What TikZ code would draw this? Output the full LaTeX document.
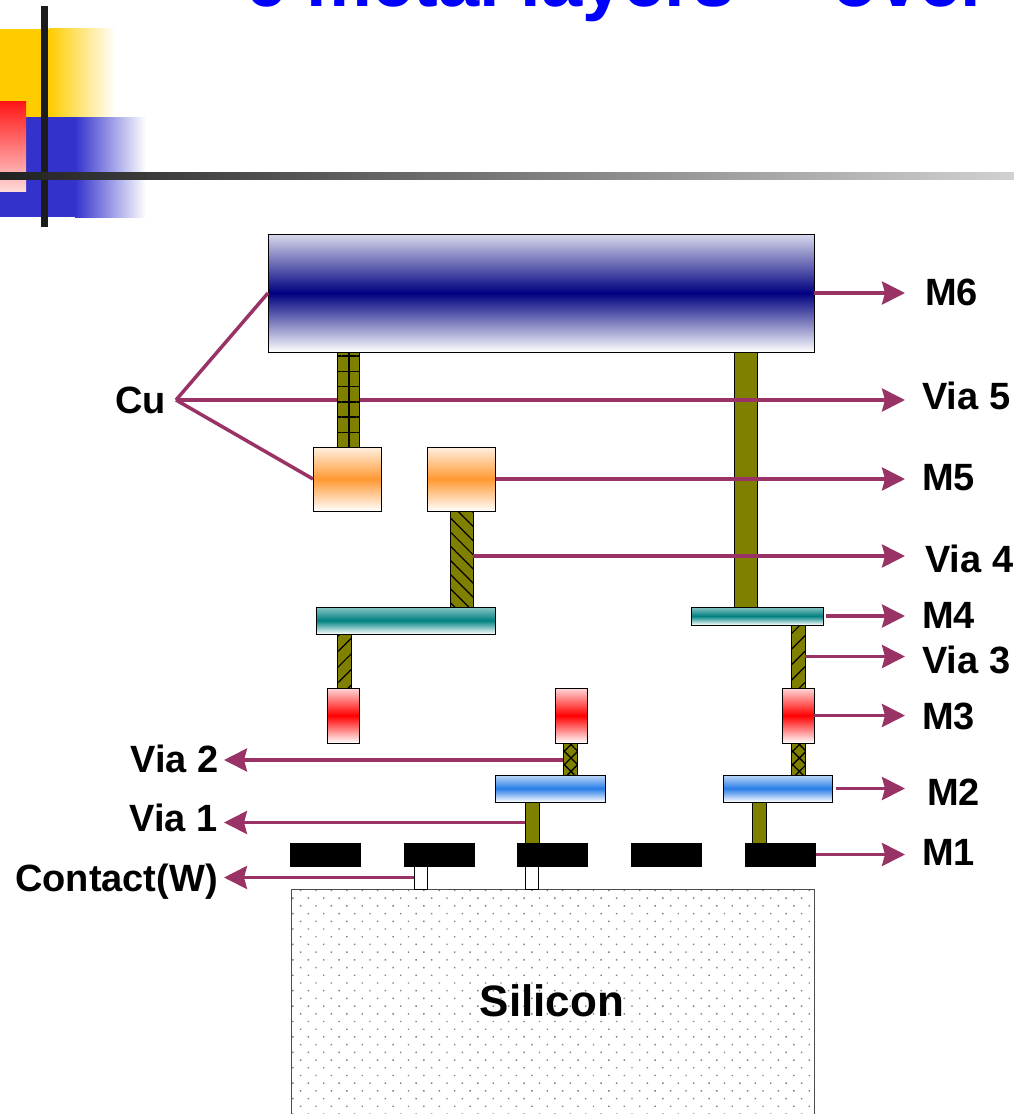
\documentclass[tikz,border=0pt]{standalone}
\usepackage{fontspec}
\setmainfont{Liberation Sans}
\usepackage{tikz}
\usetikzlibrary{arrows.meta, patterns.meta}
\definecolor{linkplum}{RGB}{153,51,102}
\definecolor{viaolive}{RGB}{128,128,0}
\definecolor{navyband}{RGB}{0,0,128}
\definecolor{orangeband}{RGB}{255,153,51}
\definecolor{tealband}{RGB}{0,128,128}
\definecolor{blueband}{RGB}{40,125,232}
\definecolor{logoyellow}{RGB}{255,204,0}
\definecolor{logoblue}{RGB}{51,51,204}
\definecolor{titleblue}{RGB}{0,0,255}

\begin{document}
\begin{tikzpicture}[
  x=1pt, y=-1pt,
  font=\fontsize{38}{38}\selectfont\bfseries,
  layerbox/.style={draw=black, line width=1pt, inner sep=0pt, outer sep=0pt},
  metalsix/.style={layerbox, top color=navyband!15, bottom color=white, middle color=navyband},
  metalfive/.style={layerbox, top color=orangeband!15, bottom color=white, middle color=orangeband},
  metalfour/.style={layerbox, top color=tealband!45, bottom color=white, middle color=tealband},
  metalthree/.style={layerbox, top color=red!15, bottom color=white, middle color=red},
  metaltwo/.style={layerbox, top color=blueband!30, bottom color=white, middle color=blueband},
  metalone/.style={layerbox, fill=black, minimum width=70pt, minimum height=23pt},
  viabox/.style={layerbox, fill=viaolive},
  viagrid/.style={layerbox, preaction={fill=viaolive}, pattern={Hatch[angle=0,distance=15.3pt,line width=1.5pt,xshift=-3pt,yshift=-7pt]}, pattern color=black},
  viadown/.style={layerbox, preaction={fill=viaolive}, pattern={Lines[angle=-45,distance=10pt,line width=1.2pt]}, pattern color=black},
  viaup/.style={layerbox, preaction={fill=viaolive}, pattern={Lines[angle=45,distance=11pt,line width=1.2pt]}, pattern color=black},
  viacross/.style={layerbox, preaction={fill=viaolive}, pattern={Hatch[angle=45,distance=9.5pt,line width=1.3pt]}, pattern color=black},
  contactbox/.style={layerbox, fill=white, minimum width=13pt, minimum height=23pt},
  siliconbox/.style={draw=black!70, line width=1pt, inner sep=0pt, pattern={Dots[angle=45,distance=10.9pt,radius=1pt]}, pattern color=black!50},
  lablft/.style={inner sep=0pt, text height=27pt, text depth=0pt, anchor=east},
  labrgt/.style={inner sep=0pt, text height=27pt, text depth=0pt, anchor=west},
  link/.style={draw=linkplum, line width=3.5pt},
  linkarrow/.style={link, -{Stealth[length=23pt,width=23pt,inset=3pt]}}
]
\useasboundingbox (0,0) rectangle (1014,1114);

% Slide title, cut by the page edge
\node[anchor=base west, inner sep=0pt, text=titleblue, font=\fontsize{74}{74}\selectfont\bfseries] (title) at (245,6) {6 metal layers\hspace{8pt} -- \hspace{8pt}over};

% Logo blocks and rules
\fill[logoyellow] (0,29) rectangle (49,117);
\shade[left color=logoyellow, right color=white] (49,28) rectangle (115,117);
\fill[logoblue] (0,117) rectangle (75,217);
\shade[left color=logoblue, right color=white] (75,117) rectangle (146,217);
\shade[top color=red!92, bottom color=red!15] (0,101) rectangle (26,191);
\fill[black!89] (41,6) rectangle (48,227);
\shade[left color=black!87, right color=black!18] (0,172) rectangle (1014,179);

% Silicon and contacts
\node[siliconbox, minimum width=523pt, minimum height=241pt] (silicon) at (552.5,1009.5) {};
\node[font=\fontsize{44}{44}\selectfont\bfseries, inner sep=0pt] (silabel) at (552,1001) {Silicon};
\node[contactbox] (conta) at (420.5,877.5) {};
\node[contactbox] (contb) at (532,877.5) {};

% M1 row
\node[metalone] (mone) at (325,854.5) {};
\node[metalone] (mtwo) at (439,854.5) {};
\node[metalone] (mthree) at (552.5,854.5) {};
\node[metalone] (mfour) at (666.5,854.5) {};
\node[metalone] (mfive) at (780.5,854.5) {};

% Via 1 and Via 2
\node[viabox, minimum width=14pt, minimum height=41pt] (viaonea) at (532,822.5) {};
\node[viabox, minimum width=14pt, minimum height=41pt] (viaoneb) at (759,822.5) {};
\node[viacross, minimum width=14pt, minimum height=32pt] (viatwoa) at (570,759) {};
\node[viacross, minimum width=14pt, minimum height=32pt] (viatwob) at (798,759) {};

% M2 and M3
\node[metaltwo, minimum width=110pt, minimum height=27pt] (mtwoa) at (550,788.5) {};
\node[metaltwo, minimum width=109pt, minimum height=27pt] (mtwob) at (777.5,788.5) {};
\node[metalthree, minimum width=32pt, minimum height=55pt] (mthreea) at (343,715.5) {};
\node[metalthree, minimum width=32pt, minimum height=55pt] (mthreeb) at (571,715.5) {};
\node[metalthree, minimum width=32pt, minimum height=55pt] (mthreec) at (798,715.5) {};

% Via 3, Via 4 and the long Via 5
\node[viaup, minimum width=14pt, minimum height=54pt] (viathreea) at (344,661) {};
\node[viaup, minimum width=14pt, minimum height=63pt] (viathreeb) at (798,656.5) {};
\node[viadown, minimum width=23pt, minimum height=96pt] (viafour) at (461.5,559) {};
\node[viabox, minimum width=23pt, minimum height=255pt] (viafiveb) at (746,479.5) {};

% M4, M5 and M6
\node[metalfour, minimum width=179pt, minimum height=27pt] (mfoura) at (405.5,620.5) {};
\node[metalfour, minimum width=132pt, minimum height=18pt] (mfourb) at (757,616) {};
\node[metalfive, minimum width=68pt, minimum height=64pt] (mfivea) at (347,479) {};
\node[metalfive, minimum width=68pt, minimum height=64pt] (mfiveb) at (461.75,479) {};
\node[metalsix, minimum width=546pt, minimum height=118pt] (msix) at (541,293) {};

% Labels on the right
\node[labrgt] (labmsix) at (925,292) {M6};
\node[labrgt] (labvfive) at (922,395.5) {Via 5};
\node[labrgt] (labmfive) at (922,477) {M5};
\node[labrgt] (labvfour) at (925,559) {Via 4};
\node[labrgt] (labmfour) at (922,615) {M4};
\node[labrgt] (labvthree) at (922,660) {Via 3};
\node[labrgt] (labmthree) at (922,716) {M3};
\node[labrgt] (labmtwo) at (927,792) {M2};
\node[labrgt] (labmone) at (922,852) {M1};

% Labels on the left
\node[lablft] (labcu) at (166,400) {Cu};
\node[lablft] (labvtwo) at (219,759) {Via 2};
\node[lablft] (labvone) at (218,818) {Via 1};
\node[lablft] (labcont) at (218,878) {Contact(W)};
\coordinate (cufork) at (176,400);

% Edges
\draw[link] (cufork) -- (msix.west);
\draw[link] (cufork) -- (mfivea.west);
\draw[linkarrow, shorten >=17pt] (cufork) -- (cufork -| labvfive.west);
\draw[linkarrow, shorten >=20pt] (msix.east) -- (msix.east -| labmsix.west);
\draw[linkarrow, shorten >=17pt] (mfiveb.east) -- (mfiveb.east -| labmfive.west);
\draw[linkarrow, shorten >=20pt] ([yshift=3pt]viafour.east) -- ([yshift=3pt]viafour.east -| labvfour.west);
\draw[linkarrow, shorten <=3pt, shorten >=17pt] (mfourb.east) -- (mfourb.east -| labmfour.west);
\draw[linkarrow, shorten >=17pt] (viathreeb.east) -- (viathreeb.east -| labvthree.west);
\draw[linkarrow, shorten >=17pt] (mthreec.east) -- (mthreec.east -| labmthree.west);
\draw[linkarrow, shorten <=4pt, shorten >=22pt] (mtwob.east) -- (mtwob.east -| labmtwo.west);
\draw[linkarrow, shorten >=17pt] (mfive.east) -- (mfive.east -| labmone.west);
\draw[linkarrow, shorten >=5pt] ([yshift=-1pt]viatwoa.west) -- ([yshift=-1pt]viatwoa.west -| labvtwo.east);
\draw[linkarrow, shorten >=6pt] (viaonea.west) -- (viaonea.west -| labvone.east);
\draw[linkarrow, shorten >=6pt] (conta.west) -- (conta.west -| labcont.east);

% Left Via 5 sits over the Cu line
\node[viagrid, minimum width=22pt, minimum height=95pt] (viafivea) at (348,399.5) {};
\end{tikzpicture}
\end{document}
